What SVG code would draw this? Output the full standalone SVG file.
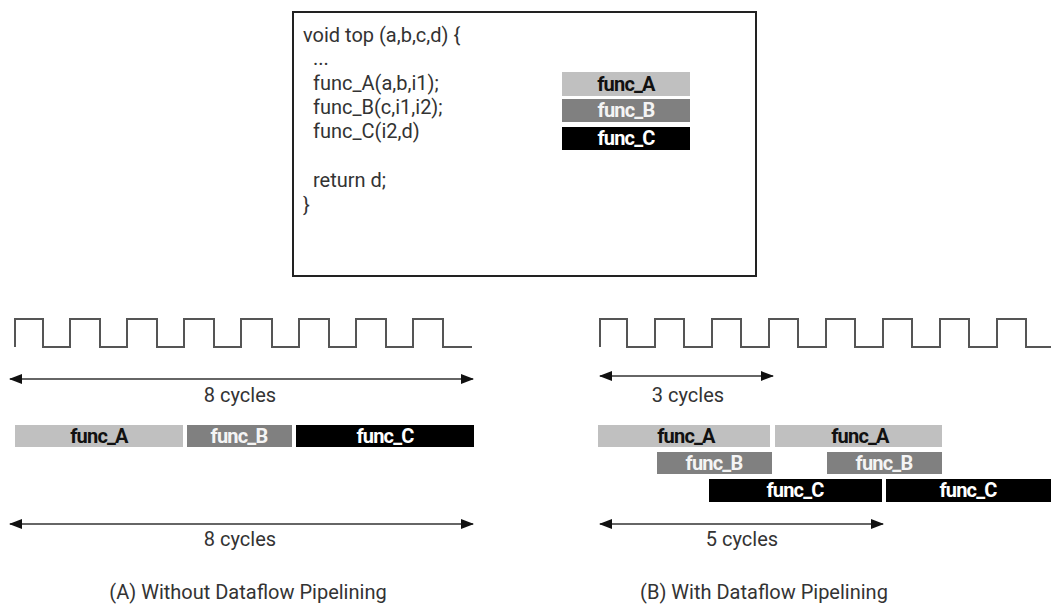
<svg xmlns="http://www.w3.org/2000/svg" width="1051" height="605" viewBox="0 0 1051 605">
<style>
.code{font-family:Roboto,"Liberation Sans",sans-serif;font-size:20px;fill:#333}
.lbl{font-family:Roboto,"Liberation Sans",sans-serif;font-size:20px;fill:#333;text-anchor:middle}
.bt{font-family:Roboto,"Liberation Sans",sans-serif;font-size:20px;font-weight:bold;text-anchor:middle;letter-spacing:-0.8px}
.clk{fill:none;stroke:#555;stroke-width:2}
.arr{stroke:#333;stroke-width:1.6;marker-start:url(#ah);marker-end:url(#ah)}
.fa{fill:#c0c0c0}.fb{fill:#808080}.fc{fill:#000}
.ta{fill:#111}.tb{fill:#f4f4f4}.tc{fill:#fff}
</style>
<defs>
<marker id="ah" viewBox="0 0 13 10" refX="12" refY="5" markerWidth="13" markerHeight="10" markerUnits="userSpaceOnUse" orient="auto-start-reverse">
<path d="M0,0 L13,5 L0,10 z" fill="#111"/>
</marker>
</defs>
<rect width="1051" height="605" fill="#fff"/>
<g id="code-box">
<rect x="293" y="12" width="463" height="264" fill="#fff" stroke="#222" stroke-width="2"/>
<text class="code" x="303" y="42">void top (a,b,c,d) {</text>
<text class="code" x="313" y="65">...</text>
<text class="code" x="313" y="90">func_A(a,b,i1);</text>
<text class="code" x="313" y="114">func_B(c,i1,i2);</text>
<text class="code" x="313" y="138">func_C(i2,d)</text>
<text class="code" x="313" y="187">return d;</text>
<text class="code" x="303" y="212">}</text>
</g>
<g id="legend">
<g id="legend-a"><rect class="fa" x="562" y="72" width="128" height="24"/><text class="bt ta" x="626" y="91">func_A</text></g>
<g id="legend-b"><rect class="fb" x="562" y="99" width="128" height="23"/><text class="bt tb" x="626" y="117">func_B</text></g>
<g id="legend-c"><rect class="fc" x="562" y="127" width="128" height="23"/><text class="bt tc" x="626" y="145">func_C</text></g>
</g>
<g id="clock-a">
<path class="clk" d="M15,347 V319 H43 V347 H70 V319 H100 V347 H127 V319 H157 V347 H184 V319 H214 V347 H241 V319 H272 V347 H299 V319 H329 V347 H356 V319 H386 V347 H413 V319 H443 V347 H472"/>
</g>
<g id="clock-b">
<path class="clk" d="M600,347 V319 H627 V347 H655 V319 H684 V347 H712 V319 H741 V347 H769 V319 H798 V347 H826 V319 H855 V347 H883 V319 H912 V347 H940 V319 H969 V347 H997 V319 H1026 V347 H1051"/>
</g>
<g id="connectors">
<line class="arr" x1="10" y1="379" x2="473" y2="379"/>
<line class="arr" x1="600" y1="376" x2="773" y2="376"/>
<line class="arr" x1="10" y1="524" x2="473" y2="524"/>
<line class="arr" x1="600" y1="524" x2="883" y2="524"/>
</g>
<g id="labels">
<text class="lbl" x="240" y="402">8 cycles</text>
<text class="lbl" x="688" y="402">3 cycles</text>
<text class="lbl" x="240" y="546">8 cycles</text>
<text class="lbl" x="742" y="546">5 cycles</text>
<text class="lbl" x="248" y="599">(A) Without Dataflow Pipelining</text>
<text class="lbl" x="764" y="599">(B) With Dataflow Pipelining</text>
</g>
<g id="bars-a">
<g id="a-func-a"><rect class="fa" x="15" y="425" width="168" height="22"/><text class="bt ta" x="99" y="443">func_A</text></g>
<g id="a-func-b"><rect class="fb" x="187" y="425" width="105" height="22"/><text class="bt tb" x="239" y="443">func_B</text></g>
<g id="a-func-c"><rect class="fc" x="296" y="425" width="178" height="22"/><text class="bt tc" x="385" y="443">func_C</text></g>
</g>
<g id="bars-b">
<g id="b-func-a1"><rect class="fa" x="598" y="425" width="172" height="22"/><text class="bt ta" x="686" y="443">func_A</text></g>
<g id="b-func-a2"><rect class="fa" x="775" y="425" width="167" height="22"/><text class="bt ta" x="860" y="443">func_A</text></g>
<g id="b-func-b1"><rect class="fb" x="657" y="452" width="115" height="22"/><text class="bt tb" x="714" y="470">func_B</text></g>
<g id="b-func-b2"><rect class="fb" x="827" y="452" width="115" height="22"/><text class="bt tb" x="884" y="470">func_B</text></g>
<g id="b-func-c1"><rect class="fc" x="709" y="479" width="173" height="23"/><text class="bt tc" x="795" y="497">func_C</text></g>
<g id="b-func-c2"><rect class="fc" x="886" y="479" width="165" height="23"/><text class="bt tc" x="968" y="497">func_C</text></g>
</g>
</svg>
